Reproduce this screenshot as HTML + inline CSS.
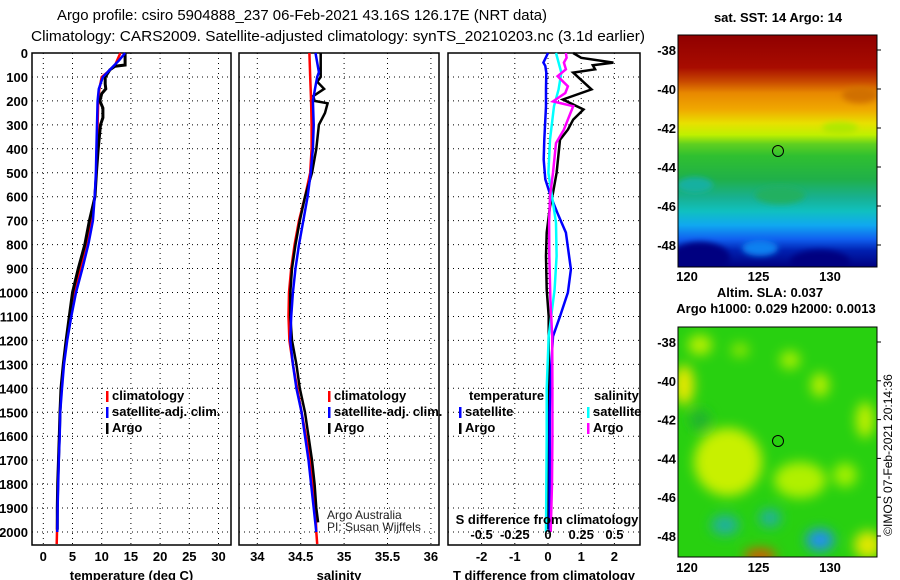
<!DOCTYPE html>
<html><head><meta charset="utf-8"><style>
html,body{margin:0;padding:0;background:#fff;}
svg{display:block;font-family:"Liberation Sans",sans-serif;}
.t{font-weight:bold;font-size:13px;fill:#000;}
</style></head><body>
<svg id="chart" width="900" height="580" viewBox="0 0 900 580" xmlns="http://www.w3.org/2000/svg">
<defs>
<linearGradient id="sstg" x1="0" y1="0" x2="0" y2="1">
<stop offset="0" stop-color="#900000"/><stop offset="0.14" stop-color="#a80c00"/>
<stop offset="0.2" stop-color="#c84800"/><stop offset="0.25" stop-color="#e88800"/>
<stop offset="0.32" stop-color="#f0a800"/><stop offset="0.38" stop-color="#e8e000"/>
<stop offset="0.43" stop-color="#c0f000"/><stop offset="0.47" stop-color="#60d020"/>
<stop offset="0.52" stop-color="#30c030"/><stop offset="0.62" stop-color="#20b048"/>
<stop offset="0.7" stop-color="#18b090"/><stop offset="0.76" stop-color="#10c0c0"/>
<stop offset="0.82" stop-color="#10a8f0"/><stop offset="0.88" stop-color="#1060f0"/>
<stop offset="0.93" stop-color="#0020b0"/>
<stop offset="1" stop-color="#000080"/></linearGradient>
<filter id="bl" x="-50%" y="-50%" width="200%" height="200%"><feGaussianBlur stdDeviation="6"/></filter>
<filter id="bl2" x="-50%" y="-50%" width="200%" height="200%"><feGaussianBlur stdDeviation="3"/></filter>
<clipPath id="c1"><rect x="678" y="35" width="199" height="232"/></clipPath>
<clipPath id="c2"><rect x="678" y="327" width="199" height="230"/></clipPath>
</defs>
<text x="302" y="20" text-anchor="middle" font-size="15" textLength="490" lengthAdjust="spacingAndGlyphs">Argo profile: csiro 5904888_237 06-Feb-2021 43.16S 126.17E (NRT data)</text>
<text x="338" y="41" text-anchor="middle" font-size="15" textLength="614" lengthAdjust="spacingAndGlyphs">Climatology: CARS2009. Satellite-adjusted climatology: synTS_20210203.nc (3.1d earlier)</text>
<g id="panels"></g>
<g id="maps">
<text class="t" x="778" y="22" text-anchor="middle">sat. SST: 14 Argo: 14</text>
<g clip-path="url(#c1)">
<rect x="678" y="35" width="199" height="232" fill="url(#sstg)"/>
<g filter="url(#bl2)">
<ellipse cx="700" cy="258" rx="30" ry="16" fill="#000080"/>
<ellipse cx="820" cy="262" rx="30" ry="12" fill="#000080"/>
<ellipse cx="760" cy="248" rx="18" ry="8" fill="#1080f0"/>
<ellipse cx="695" cy="185" rx="18" ry="8" fill="#18b0a0"/>
<ellipse cx="780" cy="195" rx="25" ry="9" fill="#20b060"/>
<ellipse cx="840" cy="128" rx="18" ry="6" fill="#b0e800"/>
<ellipse cx="860" cy="95" rx="18" ry="8" fill="#d07000"/>
</g>
</g>
<rect x="678" y="35" width="199" height="232" fill="none" stroke="#000" stroke-width="1"/>
<circle cx="778" cy="151" r="5.5" fill="none" stroke="#000" stroke-width="1"/>
<text class="t" x="770" y="297" text-anchor="middle">Altim. SLA: 0.037</text>
<text class="t" x="776" y="313" text-anchor="middle">Argo h1000: 0.029 h2000: 0.0013</text>
<g clip-path="url(#c2)">
<rect x="678" y="327" width="199" height="230" fill="#28d010"/>
<g filter="url(#bl)">
<ellipse cx="700" cy="345" rx="12" ry="10" fill="#b8f000"/>
<ellipse cx="684" cy="385" rx="10" ry="20" fill="#e8e800"/>
<ellipse cx="740" cy="350" rx="9" ry="7" fill="#90e800"/>
<ellipse cx="790" cy="360" rx="10" ry="9" fill="#a8f000"/>
<ellipse cx="820" cy="385" rx="9" ry="12" fill="#b8f000"/>
<ellipse cx="865" cy="420" rx="9" ry="18" fill="#c0f000"/>
<ellipse cx="728" cy="462" rx="34" ry="34" fill="#c8f000"/>
<ellipse cx="800" cy="480" rx="26" ry="18" fill="#b0f000"/>
<ellipse cx="845" cy="475" rx="12" ry="12" fill="#a0f000"/>
<ellipse cx="868" cy="545" rx="14" ry="14" fill="#e0e800"/>
<ellipse cx="725" cy="525" rx="14" ry="10" fill="#20b0a0"/>
<ellipse cx="770" cy="518" rx="11" ry="9" fill="#20b0a0"/>
<ellipse cx="820" cy="540" rx="14" ry="11" fill="#2090f0"/>
<ellipse cx="760" cy="556" rx="16" ry="7" fill="#e05000"/>
<ellipse cx="700" cy="420" rx="10" ry="10" fill="#20b030"/>
</g>
</g>
<rect x="678" y="327" width="199" height="230" fill="none" stroke="#000" stroke-width="1"/>
<circle cx="778" cy="441" r="5.5" fill="none" stroke="#000" stroke-width="1"/>
<text x="892" y="455" font-size="12" text-anchor="middle" transform="rotate(-90 892 455)">©IMOS 07-Feb-2021 20:14:36</text>
</g>
</svg>
<script>
// depth grid
const depthTicks=[0,100,200,300,400,500,600,700,800,900,1000,1100,1200,1300,1400,1500,1600,1700,1800,1900,2000];
// temperature panel
const tTicks=[0,5,10,15,20,25,30];
const tDepth=[0,30,50,55,70,100,130,150,170,200,230,270,300,400,500,600,700,800,900,1000,1100,1200,1300,1400,1500,1600,1700,1800,1900,1990];
const tArgo=[14.0,14.0,14.0,12.3,11.4,10.6,10.6,10.7,10.0,9.7,10.2,10.2,9.8,9.4,9.1,8.85,7.9,7.1,6.0,5.0,4.45,3.9,3.43,3.03,2.86,2.74,2.6,2.46,2.4,2.4];
const cDepth=[0,50,80,100,150,200,300,400,500,600,700,800,900,1000,1100,1200,1300,1400,1500,1600,1700,1800,1900,2000,2050];
const tClim=[13.2,12.3,11.0,10.0,9.6,9.4,9.3,9.2,9.1,8.8,8.2,7.3,6.3,5.3,4.6,4.0,3.5,3.1,2.85,2.75,2.6,2.5,2.42,2.35,2.3];
const sDepthSat=[0,30,60,100,150,200,300,400,500,600,700,800,900,1000,1100,1200,1300,1400,1500,1600,1700,1800,1900,2000];
const tSat=[14.0,13.0,11.8,10.2,9.5,9.3,9.2,9.1,9.0,8.8,8.5,7.7,6.7,5.6,4.8,4.1,3.55,3.2,2.9,2.8,2.65,2.55,2.45,2.4];
// salinity panel
const sTicks=[34,34.5,35,35.5,36];
const sDepthArgo=[0,100,120,150,180,200,210,250,300,400,500,600,700,800,900,1000,1100,1200,1300,1400,1500,1600,1700,1800,1900,1960];
const sArgo=[34.73,34.73,34.69,34.77,34.645,34.66,34.81,34.78,34.71,34.68,34.63,34.55,34.49,34.44,34.40,34.38,34.38,34.40,34.45,34.49,34.55,34.59,34.63,34.66,34.68,34.70];
const sDepthClim=[0,100,200,300,400,500,600,700,800,900,1000,1100,1200,1300,1400,1500,1600,1700,1800,1900,2000,2050];
const sClim=[34.60,34.61,34.62,34.625,34.625,34.61,34.55,34.48,34.43,34.39,34.365,34.36,34.37,34.41,34.46,34.51,34.56,34.61,34.64,34.67,34.68,34.69];
const sDepthSatS=[0,80,100,150,200,300,400,500,600,700,800,900,1000,1100,1200,1300,1400,1500,1600,1700,1800,1900,2000];
const sSat=[34.67,34.71,34.69,34.665,34.64,34.65,34.64,34.615,34.58,34.53,34.48,34.44,34.41,34.39,34.38,34.41,34.45,34.51,34.55,34.59,34.62,34.65,34.68];
// difference panel
const dTicks=[-2,-1,0,1,2];
const dsTickLabels=["-0.5","-0.25","0","0.25","0.5"];
const dDepthArgoT=[0,20,40,51,68,82,110,152,194,236,278,320,362,500,584,640,750,848,987,1100,1183,1400,1600,1800,1990];
const dArgoT=[0.76,1.0,1.97,1.35,1.42,0.76,0.98,1.31,0.45,1.07,0.76,0.6,0.36,0.26,0.15,0.06,-0.04,-0.06,-0.04,0.02,0.02,0.02,0.01,0.0,0.0];
const dDepthArgoS=[0,20,40,68,97,139,167,202,222,264,320,376,500,598,709,848,1030,1183,1400,1600,1800,2000];
const dArgoS=[0.135,0.14,0.12,0.135,0.072,0.15,0.13,0.038,0.19,0.16,0.12,0.06,0.038,0.015,0.008,0.01,0.018,0.032,0.033,0.033,0.03,0.02];
const dDepthSatT=[0,40,54,82,152,222,362,445,527,598,667,750,903,1000,1100,1183,1300,1500,1800,2000];
const dSatT=[0.0,-0.14,-0.08,-0.05,-0.06,-0.06,-0.11,-0.13,-0.08,0.08,0.28,0.54,0.69,0.6,0.36,0.15,0.1,0.05,0.05,0.05];
const dDepthSatS=[0,82,152,222,362,500,598,709,848,987,1183,1400,1600,2000];
const dSatS=[0.06,0.1,0.08,0.045,0.015,0.003,0.03,0.06,0.065,0.05,0.005,-0.01,-0.01,-0.015];

const NS='http://www.w3.org/2000/svg';
const svg=document.getElementById('panels');
const TOP=53, BOT=545;
function yD(d){return TOP+d*0.2395;}
function mk(tag,attrs,parent){const e=document.createElementNS(NS,tag);for(const k in attrs)e.setAttribute(k,attrs[k]);(parent||svg).appendChild(e);return e;}
function txt(x,y,s,anchor,cls,parent){const e=mk('text',{x:x,y:y,'text-anchor':anchor||'start',class:cls||'t'},parent);e.textContent=s;return e;}

const panels=[
 {x0:32,x1:231,sx:v=>43.3+v*5.84,ticks:tTicks,label:'temperature (deg C)',name:'temperature-panel'},
 {x0:239,x1:439,sx:v=>257.3+(v-34)*86.8,ticks:sTicks,label:'salinity',name:'salinity-panel'},
 {x0:448,x1:640,sx:v=>548+v*33.2,ticks:dTicks,label:'T difference from climatology',name:'difference-panel'}
];
panels.forEach((p,i)=>{
 const g=mk('g',{});
 
 
 depthTicks.forEach(d=>{const l=mk('line',{x1:p.x0,x2:p.x1,y1:yD(d),y2:yD(d),stroke:'#000','stroke-width':1,'stroke-dasharray':'1,4'},g);
  
  });
 p.ticks.forEach((t,j)=>{const x=p.sx(t);
  const l=mk('line',{x1:x,x2:x,y1:TOP,y2:BOT,stroke:'#000','stroke-width':1,'stroke-dasharray':'1,4'},g);
  
  
  const tl=txt(x,561,String(t),'middle','t',g);
  
  
 });
 const r=mk('rect',{x:p.x0,y:TOP,width:p.x1-p.x0,height:BOT-TOP,fill:'none',stroke:'#000','stroke-width':1.5},g);
 
 
 const al=txt((p.x0+p.x1)/2,580,p.label,'middle','t',g);
 
 
});
depthTicks.forEach(d=>{const e=txt(28,yD(d)+5,String(d),'end','t');
 
 });

function line(depths,vals,sx,color,w,name){
 const pts=depths.map((d,i)=>sx(vals[i]).toFixed(1)+','+yD(d).toFixed(1)).join(' ');
 const e=mk('polyline',{points:pts,fill:'none',stroke:color,'stroke-width':w,'stroke-linejoin':'miter'});
 
 
}
const P=panels;
line(cDepth,tClim,P[0].sx,'#ff0000',2.5,'temperature-climatology-line');
line(tDepth,tArgo,P[0].sx,'#000000',3,'temperature-argo-line');
line(sDepthSat,tSat,P[0].sx,'#0000ff',2.5,'temperature-satellite-line');
line(sDepthClim,sClim,P[1].sx,'#ff0000',2.5,'salinity-climatology-line');
line(sDepthArgo,sArgo,P[1].sx,'#000000',2.5,'salinity-argo-line');
line(sDepthSatS,sSat,P[1].sx,'#0000ff',2.5,'salinity-satellite-line');
const sS=v=>P[2].sx(v*4);
line(dDepthArgoT,dArgoT,P[2].sx,'#000000',2.5,'t-diff-argo-line');
line(dDepthSatT,dSatT,P[2].sx,'#0000ff',2.5,'t-diff-satellite-line');
line(dDepthSatS,dSatS,sS,'#00ffff',2.5,'s-diff-satellite-line');
line(dDepthArgoS,dArgoS,sS,'#ff00ff',2.5,'s-diff-argo-line');

function leg(x,y,color,label,name){
 const g=mk('g',{});
 
 
 mk('rect',{x:x,y:y-9,width:2.5,height:11,fill:color},g);
 txt(x+6,y,label,'start','t',g);
}
leg(106,400,'#ff0000','climatology','legend-temp-climatology');
leg(106,416,'#0000ff','satellite-adj. clim.','legend-temp-satellite');
leg(106,432,'#000000','Argo','legend-temp-argo');
leg(328,400,'#ff0000','climatology','legend-sal-climatology');
leg(328,416,'#0000ff','satellite-adj. clim.','legend-sal-satellite');
leg(328,432,'#000000','Argo','legend-sal-argo');
let e=txt(469,400,'temperature');


e=txt(594,400,'salinity');


leg(459,416,'#0000ff','satellite','legend-tdiff-satellite');
leg(459,432,'#000000','Argo','legend-tdiff-argo');
leg(587,416,'#00ffff','satellite','legend-sdiff-satellite');
leg(587,432,'#ff00ff','Argo','legend-sdiff-argo');
e=txt(547,524,'S difference from climatology','middle');


dsTickLabels.forEach((s,i)=>{const x=P[2].sx(dTicks[i]);const t=txt(x,539,s,'middle');
 
 });
e=mk('text',{x:327,y:519,'font-size':12,fill:'#222'});e.textContent='Argo Australia';


e=mk('text',{x:327,y:531,'font-size':12,fill:'#222'});e.textContent='PI: Susan Wijffels';



const maps=document.getElementById('maps');
const lonTicks=[120,125,130];
const latTicks=[-38,-40,-42,-44,-46,-48];
const lonX=v=>687+(v-120)*14.3;
[[50,19.5,281,'sst'],[342,19.4,572,'sla']].forEach(([y38,dy,ly,nm])=>{
 lonTicks.forEach(v=>{const t=txt(lonX(v),ly,String(v),'middle','t',maps);
  
  });
 latTicks.forEach(v=>{const y=y38+(-38-v)*dy;const t=txt(676,y+5,String(v),'end','t',maps);
  
  
  mk('line',{x1:877,x2:881,y1:y,y2:y,stroke:'#000'},maps);});
});
</script>
</body></html>
